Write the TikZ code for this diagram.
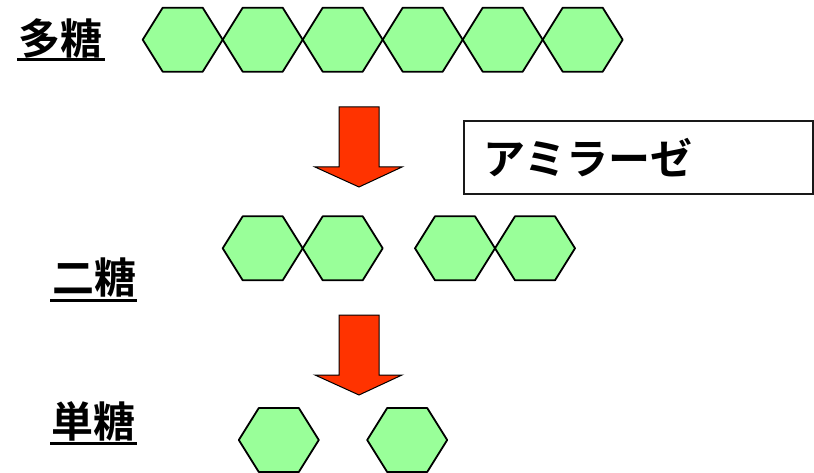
\documentclass[tikz,border=0pt]{standalone}
\usepackage{fontspec}
\newfontfamily\jpfont{Noto Sans CJK JP}[BoldFont={Noto Sans CJK JP Bold}]
\definecolor{hexgreen}{HTML}{99FF99}
\definecolor{arrowred}{HTML}{FF3300}
\tikzset{
  x=1pt, y=-1pt,
  hexshape/.style={fill=hexgreen, draw=black, line width=1.8pt, line join=round},
  hexa/.pic={\path[hexshape] (-40,0) -- (-20,-32) -- (20,-32) -- (40,0) -- (20,32) -- (-20,32) -- cycle;},
  bigarrow/.style={fill=arrowred, draw=black, line width=1pt, line join=miter},
  lbl/.style={inner sep=0pt, font=\jpfont\bfseries\fontsize{42}{50}\selectfont},
  uline/.style={line width=3pt}
}
\begin{document}
\begin{tikzpicture}
\useasboundingbox (0,0) rectangle (814,473);
% top row: polysaccharide
\foreach \i in {0,...,5} { \pic at ({182.7+80*\i},39.7) {hexa}; }
% second row
\foreach \cx in {262.7,342.7,455,535} { \pic at (\cx,248.3) {hexa}; }
% third row
\foreach \cx in {278.8,407.2} { \pic at (\cx,440) {hexa}; }
% arrows
\path[bigarrow] (339,107) -- (379,107) -- (379,167) -- (402,167) -- (359,187) -- (315,167) -- (339,167) -- cycle;
\path[bigarrow] (339,315) -- (379,315) -- (379,375) -- (402,375) -- (359,395) -- (315,375) -- (339,375) -- cycle;
% enzyme box
\node[draw=black!90, line width=1.8pt, minimum width=349pt, minimum height=73pt, anchor=north west, inner sep=0pt] (enzbox) at (463,120) {};
\node[lbl] (enz) at (588,158) {アミラーゼ};
% labels
\node[lbl] (poly) at (61,38.5) {多糖};
\draw[uline] (17,60) -- (105,60);
\node[lbl] (di) at (94,277.5) {二糖};
\draw[uline] (50,300) -- (137,300);
\node[lbl] (mono) at (93,421.5) {単糖};
\draw[uline] (50,443) -- (137,443);
\end{tikzpicture}
\end{document}
